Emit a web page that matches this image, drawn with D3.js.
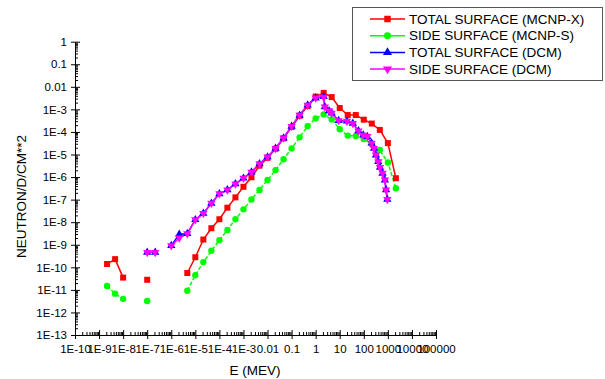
<!DOCTYPE html>
<html><head><meta charset="utf-8">
<script src="https://cdn.jsdelivr.net/npm/d3@7"></script>
<style>
body{margin:0;background:#fff;}
text{font-family:"Liberation Sans",Arial,sans-serif;}
</style></head>
<body><svg id="c" width="605" height="379"></svg>
<script>
// ---- data ----
const mcnpEnergy = [2.15e-9, 4.64e-9, 1e-8, 2.15e-8, 1e-7, 2.15e-7, 4.64e-6, 1e-5, 2.15e-5, 4.64e-5, 1e-4, 2.15e-4, 4.64e-4, 1e-3, 2.15e-3, 4.64e-3, 0.01, 0.0215, 0.0464, 0.1, 0.215, 0.464, 1, 2.15, 4.64, 10, 21.5, 46.4, 100, 215, 464, 1000, 2150];
const totalMcnpX = [1.4e-10, 2.3e-10, 3.5e-11, null, 2.8e-11, null, 5.6e-11, 2.8e-10, 1.7e-9, 5.4e-9, 1.35e-8, 4.4e-8, 1.26e-7, 3.7e-7, 9.8e-7, 3.2e-6, 7.1e-6, 1.8e-5, 5.2e-5, 1.66e-4, 5.2e-4, 1.4e-3, 3.7e-3, 5.4e-3, 3.5e-3, 1.15e-3, 5.6e-4, 5.6e-4, 3.5e-4, 2.35e-4, 1.23e-4, 3.2e-5, 8.9e-7];
const sideMcnpS = [1.5e-11, 6.8e-12, 4e-12, null, 3.2e-12, null, 9.1e-12, 4.5e-11, 1.7e-10, 5.4e-10, 1.6e-9, 4.5e-9, 1.35e-8, 3.7e-8, 1.02e-7, 2.7e-7, 7.4e-7, 2.04e-6, 6.2e-6, 1.86e-5, 5.75e-5, 1.82e-4, 4.0e-4, 6.0e-4, 3.6e-4, 1.32e-4, 6.9e-5, 6.6e-5, 4.9e-5, 2.75e-5, 1.58e-5, 4.4e-6, 3.2e-7];
const dcmEnergy = [1e-7, 2.15e-7, 4.64e-7, 1e-6, 2.15e-6, 4.64e-6, 1e-5, 2.15e-5, 4.64e-5, 1e-4, 2.15e-4, 4.64e-4, 1e-3, 2.15e-3, 4.64e-3, 0.01, 0.0215, 0.0464, 0.1, 0.215, 0.464, 1, 2.15, 2.4, 3.6, 4.6, 9, 20, 35, 60, 95, 140, 210, 265, 320, 400, 470, 600, 750, 840, 950];
const totalDcm = [4.6e-10, 4.6e-10, null, 9.1e-10, 2.9e-9, 3.1e-9, 1.29e-8, 2.45e-8, 6.9e-8, 1.82e-7, 2.7e-7, 5.0e-7, 8.9e-7, 1.66e-6, 3.9e-6, 7.8e-6, 1.86e-5, 5.4e-5, 1.78e-4, 5.5e-4, 1.55e-3, 3.2e-3, 3.7e-3, 1.29e-3, 8.7e-4, 6.8e-4, 3.2e-4, 3.0e-4, 2.4e-4, 1.12e-4, 7.2e-5, 6.3e-5, 3.2e-5, 1.86e-5, 9.5e-6, 4.8e-6, 2.7e-6, 1.48e-6, 7.4e-7, 2.7e-7, 1.02e-7];
const sideDcm = [4.6e-10, 4.6e-10, null, 9.1e-10, 2.0e-9, 3.1e-9, 1.29e-8, 2.45e-8, 6.9e-8, 1.82e-7, 2.7e-7, 5.0e-7, 8.9e-7, 1.66e-6, 3.9e-6, 7.8e-6, 1.86e-5, 5.4e-5, 1.78e-4, 5.5e-4, 1.55e-3, 3.2e-3, 3.5e-3, 1.29e-3, 8.7e-4, 6.8e-4, 3.2e-4, 3.0e-4, 2.4e-4, 1.12e-4, 7.2e-5, 6.3e-5, 3.2e-5, 1.86e-5, 9.5e-6, 4.8e-6, 2.7e-6, 1.48e-6, 7.4e-7, 2.7e-7, 1.02e-7];

const xTickValues = [1e-10,1e-9,1e-8,1e-7,1e-6,1e-5,1e-4,1e-3,1e-2,1e-1,1,10,100,1000,10000,100000];
const xTickLabels = ["1E-10","1E-9","1E-8","1E-7","1E-6","1E-5","1E-4","1E-3","0.01","0.1","1","10","100","1000","10000","100000"];
const yTickValues = [1,1e-1,1e-2,1e-3,1e-4,1e-5,1e-6,1e-7,1e-8,1e-9,1e-10,1e-11,1e-12,1e-13];
const yTickLabels = ["1","0.1","0.01","1E-3","1E-4","1E-5","1E-6","1E-7","1E-8","1E-9","1E-10","1E-11","1E-12","1E-13"];
const seriesNames = ["TOTAL SURFACE (MCNP-X)","SIDE SURFACE (MCNP-S)","TOTAL SURFACE (DCM)","SIDE SURFACE (DCM)"];

// ---- drawing ----
const svg = d3.select("#c");
const x = d3.scaleLog().domain([1e-10, 1e5]).range([75, 436]);
const y = d3.scaleLog().domain([1e-13, 1]).range([335, 41.7]);

const minorX = [], minorY = [];
for (let e = -10; e < 5; e++) for (let k = 2; k <= 9; k++) minorX.push(k * Math.pow(10, e));
for (let e = -13; e < 0; e++) for (let k = 2; k <= 9; k++) minorY.push(k * Math.pow(10, e));

const fontTick = "11.5px";
// x axis
const gx = svg.append("g").attr("transform", "translate(0,335)");
gx.call(d3.axisBottom(x).tickValues(xTickValues).tickFormat((d,i)=>xTickLabels[i]).tickSizeInner(4).tickSizeOuter(0).tickPadding(6));
gx.append("g").call(d3.axisBottom(x).tickValues(xTickValues).tickFormat("").tickSizeInner(-5).tickSizeOuter(0)).select(".domain").remove();
gx.append("g").call(d3.axisBottom(x).tickValues(minorX).tickFormat("").tickSizeInner(-3).tickSizeOuter(0)).select(".domain").remove();
// y axis
const gy = svg.append("g").attr("transform", "translate(75,0)");
gy.call(d3.axisLeft(y).tickValues(yTickValues).tickFormat((d,i)=>yTickLabels[i]).tickSizeInner(4).tickSizeOuter(0).tickPadding(4));
gy.append("g").call(d3.axisLeft(y).tickValues(yTickValues).tickFormat("").tickSizeInner(-5).tickSizeOuter(0)).select(".domain").remove();
gy.append("g").call(d3.axisLeft(y).tickValues(minorY).tickFormat("").tickSizeInner(-3).tickSizeOuter(0)).select(".domain").remove();

svg.selectAll(".tick text").attr("font-size", fontTick).attr("font-family", "Liberation Sans, Arial, sans-serif").attr("fill", "#000");
svg.selectAll(".domain, .tick line").attr("stroke", "#000").attr("stroke-width", 1);

// axis titles
svg.append("text").attr("x", 255).attr("y", 375).attr("text-anchor", "middle").attr("font-size", "13.5px").text("E (MEV)");
svg.append("text").attr("transform", "translate(26,196.5) rotate(-90)").attr("text-anchor", "middle").attr("font-size", "13.5px").text("NEUTRON/D/CM**2");

// series
const series = [
  {E: mcnpEnergy, V: totalMcnpX, color: "#ff0000", sym: d3.symbolSquare, size: 36, rot: 0, dash: null},
  {E: mcnpEnergy, V: sideMcnpS, color: "#00ff00", sym: d3.symbolCircle, size: 32, rot: 0, dash: "4,2"},
  {E: dcmEnergy, V: totalDcm, color: "#0000ff", sym: d3.symbolTriangle, size: 30, rot: 0, dash: null},
  {E: dcmEnergy, V: sideDcm, color: "#ff00ff", sym: d3.symbolTriangle, size: 30, rot: 180, dash: null}
];
series.forEach(s => {
  const pts = s.E.map((e, i) => [e, s.V[i]]);
  const line = d3.line().defined(d => d[1] != null).x(d => x(d[0])).y(d => y(d[1]));
  svg.append("path").datum(pts).attr("d", line).attr("fill", "none").attr("stroke", s.color).attr("stroke-width", 1.5).attr("stroke-dasharray", s.dash);
});
series.forEach(s => {
  const pts = s.E.map((e, i) => [e, s.V[i]]).filter(d => d[1] != null);
  svg.append("g").selectAll("path").data(pts).join("path")
    .attr("d", d3.symbol().type(s.sym).size(s.size))
    .attr("transform", d => `translate(${x(d[0])},${y(d[1])}) rotate(${s.rot})`)
    .attr("fill", s.color);
});

// legend
const lg = svg.append("g");
lg.append("rect").attr("x", 352.5).attr("y", 7.5).attr("width", 250).attr("height", 73).attr("fill", "#fff").attr("stroke", "#555").attr("stroke-width", 1);
seriesNames.forEach((name, i) => {
  const s = series[i];
  const cy = 19 + i * 16.7;
  lg.append("line").attr("x1", 370).attr("x2", 405).attr("y1", cy).attr("y2", cy).attr("stroke", s.color).attr("stroke-width", 1.5);
  lg.append("path").attr("d", d3.symbol().type(s.sym).size(s.size + 6)).attr("transform", `translate(387.5,${cy}) rotate(${s.rot})`).attr("fill", s.color);
  lg.append("text").attr("x", 409).attr("y", cy).attr("dy", "0.35em").attr("font-size", "13.5px").text(name);
});
</script></body></html>
